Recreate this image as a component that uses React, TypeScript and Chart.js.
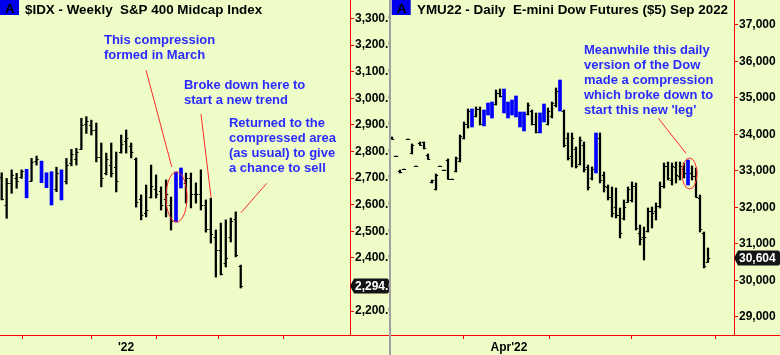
import React, { useEffect, useRef } from 'react';
import { Chart, registerables } from 'chart.js';
Chart.register(...registerables);

const FONT = "'Liberation Sans', Arial, sans-serif";
const BG = '#EEFDC8';
const TEXT_BLUE = '#2B2BFF';
const RED = '#FF0000';

// ---------- Left panel: $IDX weekly ----------
const leftTitle = '$IDX - Weekly  S&P 400 Midcap Index';
const leftHigh = [2720,2699,2731,2718,2731,2733,2774,2783,2764,2720,2724,2741,2731,2774,2808,2812,2925,2931,2918,2907,2832,2794,2832,2798,2862,2881,2832,2776,2637,2674,2749,2712,2667,2693,2629,2723,2738,2719,2719,2682,2731,2618,2625,2505,2531,2543,2550,2573,2373];
const leftLow = [2618,2549,2643,2662,2699,2626,2689,2749,2683,2664,2599,2649,2618,2678,2746,2749,2808,2868,2862,2761,2667,2712,2704,2648,2794,2794,2776,2591,2543,2554,2625,2625,2580,2554,2505,2535,2663,2606,2588,2606,2580,2497,2456,2328,2336,2366,2460,2404,2287];
const leftOpen = [2705,2600,2680,2700,2705,2720,2690,2765,2750,2700,2700,2660,2700,2690,2755,2770,2810,2905,2900,2880,2780,2720,2750,2740,2800,2840,2820,2770,2620,2570,2630,2660,2650,2620,2600,2700,2680,2680,2700,2640,2640,2600,2510,2480,2430,2380,2480,2545,2370];
const leftClose = [2622,2680,2712,2690,2725,2640,2760,2770,2690,2680,2620,2720,2630,2750,2790,2800,2900,2915,2880,2780,2700,2770,2720,2690,2830,2850,2800,2610,2560,2580,2670,2640,2600,2640,2540,2550,2720,2700,2640,2640,2600,2510,2490,2430,2340,2400,2540,2410,2294];
const leftBlue = [5, 8, 9, 10, 12, 35, 36];
const leftYTicks = [2200,2300,2400,2500,2600,2700,2800,2900,3000,3100,3200,3300];
const leftXTicks = [11.1, 24.96, 37.01, 50.06];
const leftXLabels = ['', "'22", '', ''];
const leftLast = '2,294.0';

// ---------- Right panel: YMU22 daily ----------
const rightTitle = 'YMU22 - Daily  E-mini Dow Futures ($5) Sep 2022';
const rightHigh = [33931,33411,33027,33054,33876,33740,33137,33794,33794,33466,32753,32917,33137,33027,33329,32780,33383,33986,34342,34699,34699,34753,34753,34671,34863,34890,35219,35246,35246,34890,34945,35055,34616,34616,34863,34671,34589,34589,34835,34726,34890,35274,35493,34671,34041,34041,33657,33931,33794,33164,33109,34041,34041,32972,32616,32561,32534,31986,32205,32561,32698,32671,31520,31465,31986,32013,32123,32698,33219,33246,33219,33246,33246,33219,33301,33137,33082,32342,31328,30890];
const rightLow = [33876,33411,32945,33054,33876,33466,33137,33712,33602,33329,32671,32479,33137,33027,32780,32780,32972,33246,33876,34178,34205,34479,34260,34233,34534,34452,34808,35027,34589,34452,34534,34479,34205,34096,34534,34260,34041,34041,34342,34260,34452,34753,34644,33657,33301,33109,33082,33164,32972,32479,32753,32945,32671,32424,32205,31739,31712,31164,31657,32150,32150,31383,30972,30561,31328,31438,31657,31986,32534,32753,32616,32671,32753,32808,32616,32753,32287,31328,30342,30506];
const rightOpen = [33931,33411,33000,33054,33876,33500,33137,33760,33790,33440,32700,32500,33137,33027,33300,32780,32990,33260,33900,34300,34650,34500,34700,34300,34600,34800,34830,35150,35200,34850,34550,35000,34580,34250,34560,34650,34300,34100,34400,34300,34500,34800,35400,34650,33900,33400,33600,33200,33700,33100,32800,34000,33900,32900,32550,32300,32000,31800,31700,32160,32200,32600,31300,31200,31350,31900,31900,32050,32600,33150,32750,33100,32850,33050,33250,32950,32850,32250,31300,30500];
const rightClose = [33876,33411,32960,33054,33876,33720,33137,33720,33620,33340,32740,32880,33137,33027,32790,32780,33350,33950,34300,34650,34250,34700,34300,34600,34800,34500,35150,35050,34650,34500,34900,34500,34250,34550,34800,34300,34080,34550,34800,34650,34850,35200,34700,33700,33350,33900,33150,33850,33050,32550,33050,33000,32750,32600,32300,31850,31800,31300,32000,32500,32600,31450,31150,31200,31900,31850,32050,32600,33150,32800,33150,32900,33150,32950,32650,32850,32300,31400,30400,30604];
const rightBlue = [20, 23, 24, 25, 28, 29, 30, 31, 32, 33, 37, 38, 42, 51, 74];
const rightYTicks = [29000,30000,31000,32000,33000,34000,35000,36000,37000];
const rightXTicks = [6.25, 29.25, 49.25, 70.25];
const rightXLabels = ['', "Apr'22", '', ''];
const rightLast = '30,604';

type Spec = {
  title: string; high: number[]; low: number[]; open: number[]; close: number[]; blue: number[];
  yTicks: number[]; yFmt: (v: number) => string; xTicks: number[]; xLabels: string[];
  xMin: number; xMax: number; yMin: number; yMax: number; axisW: number; last: string;
  titleX: number; boxX: number;
  lines: number[][]; ellipses: number[][]; texts: { x: number; y: number; lines: string[] }[];
};

const leftSpec: Spec = {
  title: leftTitle, high: leftHigh, low: leftLow, open: leftOpen, close: leftClose, blue: leftBlue,
  yTicks: leftYTicks, yFmt: (v) => v.toLocaleString('en-US', { minimumFractionDigits: 1, maximumFractionDigits: 1 }),
  xTicks: leftXTicks, xLabels: leftXLabels, xMin: -0.34, xMax: 69.94, yMin: 2110.3, yMax: 3369.5, axisW: 39,
  last: leftLast, titleX: 25, boxX: 0,
  lines: [[28.98, 3106, 34.15, 2742], [40.02, 2941, 42.03, 2628], [53.2, 2680, 48.05, 2570]],
  ellipses: [[32.99, 37.21, 2723, 2535]],
  texts: [
    { x: 20.54, y: 3204, lines: ['This compression', 'formed in March'] },
    { x: 36.6, y: 3035, lines: ['Broke down here to', 'start a new trend'] },
    { x: 45.64, y: 2891, lines: ['Returned to the', 'compressed area', '(as usual) to give', 'a chance to sell'] },
  ],
};

const rightSpec: Spec = {
  title: rightTitle, high: rightHigh, low: rightLow, open: rightOpen, close: rightClose, blue: rightBlue,
  yTicks: rightYTicks, yFmt: (v) => v.toLocaleString('en-US'),
  xTicks: rightXTicks, xLabels: rightXLabels, xMin: -0.25, xMax: 85.5, yMin: 28506, yMax: 37685, axisW: 46,
  last: rightLast, titleX: 26, boxX: 0.7,
  lines: [[66.6, 34444, 73.5, 33485]],
  ellipses: [[72.5, 76.25, 33356, 32507]],
  texts: [
    { x: 48, y: 36205, lines: ['Meanwhile this daily', 'version of the Dow', 'made a compression', 'which broke down to', "start this new 'leg'"] },
  ],
};

const ohlcTicks = {
  id: 'ohlcTicks',
  afterDatasetsDraw(chart: any, _a: any, o: any) {
    const { ctx } = chart;
    const xs = chart.scales.x, ys = chart.scales.y;
    ctx.save();
    ctx.strokeStyle = '#000';
    ctx.lineWidth = 1;
    ctx.beginPath();
    o.open.forEach((op: number, i: number) => {
      if (o.blue.includes(i)) return;
      const px = xs.getPixelForValue(i);
      const yo = Math.round(ys.getPixelForValue(op)) + 0.5;
      const yc = Math.round(ys.getPixelForValue(o.close[i])) + 0.5;
      ctx.moveTo(px - 2.2, yo); ctx.lineTo(px + 0.5, yo);
      ctx.moveTo(px - 0.5, yc); ctx.lineTo(px + 2.2, yc);
    });
    ctx.stroke();
    ctx.restore();
  },
};

const decor = {
  id: 'decor',
  afterDraw(chart: any, _a: any, o: any) {
    const { ctx, chartArea, width } = chart;
    const xs = chart.scales.x, ys = chart.scales.y;
    ctx.save();
    // full-width bottom axis line
    ctx.strokeStyle = RED; ctx.lineWidth = 1;
    ctx.beginPath();
    ctx.moveTo(0, Math.round(chartArea.bottom) + 0.5);
    ctx.lineTo(width, Math.round(chartArea.bottom) + 0.5);
    ctx.stroke();
    // title
    ctx.fillStyle = '#0000EE';
    ctx.fillRect(o.boxX, 0, 19, 15);
    ctx.fillStyle = '#000';
    ctx.font = `bold 13.4px ${FONT}`;
    ctx.textBaseline = 'alphabetic';
    ctx.fillText('A', o.boxX + 5, 13);
    ctx.fillText(o.title, o.titleX, 14);
    // annotation lines
    ctx.strokeStyle = '#FF2A2A';
    ctx.lineWidth = 1;
    o.lines.forEach((l: number[]) => {
      ctx.beginPath();
      ctx.moveTo(xs.getPixelForValue(l[0]), ys.getPixelForValue(l[1]));
      ctx.lineTo(xs.getPixelForValue(l[2]), ys.getPixelForValue(l[3]));
      ctx.stroke();
    });
    o.ellipses.forEach((e: number[]) => {
      const x0 = xs.getPixelForValue(e[0]), x1 = xs.getPixelForValue(e[1]);
      const y0 = ys.getPixelForValue(e[2]), y1 = ys.getPixelForValue(e[3]);
      ctx.beginPath();
      ctx.ellipse((x0 + x1) / 2, (y0 + y1) / 2, (x1 - x0) / 2, (y1 - y0) / 2, 0, 0, Math.PI * 2);
      ctx.stroke();
    });
    // annotation texts
    ctx.fillStyle = TEXT_BLUE;
    ctx.font = `bold 13px ${FONT}`;
    o.texts.forEach((t: any) => {
      const px = xs.getPixelForValue(t.x), py = ys.getPixelForValue(t.y);
      t.lines.forEach((s: string, k: number) => ctx.fillText(s, px, py + k * 15));
    });
    // last value box
    const lastClose = o.close[o.close.length - 1];
    const yv = Math.round(ys.getPixelForValue(lastClose));
    const tip = chartArea.right;
    ctx.fillStyle = '#141414';
    ctx.beginPath();
    ctx.moveTo(tip, yv);
    ctx.lineTo(tip + 4, yv - 7.5);
    ctx.lineTo(width - 2, yv - 7.5);
    ctx.quadraticCurveTo(width, yv - 7.5, width, yv - 5);
    ctx.lineTo(width, yv + 5);
    ctx.quadraticCurveTo(width, yv + 7.5, width - 2, yv + 7.5);
    ctx.lineTo(tip + 4, yv + 7.5);
    ctx.closePath();
    ctx.fill();
    ctx.fillStyle = '#FFFFFF';
    ctx.font = `bold 12px ${FONT}`;
    ctx.textBaseline = 'middle';
    ctx.fillText(o.last, tip + 5, yv + 0.5);
    ctx.restore();
  },
};

function Panel({ spec, left, width }: { spec: Spec; left: number; width: number }) {
  const ref = useRef<HTMLCanvasElement | null>(null);
  useEffect(() => {
    if (!ref.current) return;
    const black: any[] = [], blue: any[] = [];
    spec.high.forEach((h, i) => {
      const pt = { x: i, y: [spec.low[i], h] };
      (spec.blue.includes(i) ? blue : black).push(pt);
    });
    const tickFont = { family: FONT, size: 12, weight: 'bold' as const };
    const chart = new Chart(ref.current, {
      type: 'bar',
      data: {
        datasets: [
          { data: black, backgroundColor: '#000', barThickness: 1.6, grouped: false } as any,
          { data: blue, backgroundColor: '#0000FF', barThickness: 3, grouped: false } as any,
        ],
      },
      options: {
        animation: false,
        responsive: false,
        maintainAspectRatio: false,
        events: [],
        layout: { padding: 0 },
        plugins: {
          legend: { display: false },
          tooltip: { enabled: false },
          ohlcTicks: { open: spec.open, close: spec.close, blue: spec.blue },
          decor: {
            title: spec.title, titleX: spec.titleX, boxX: spec.boxX, lines: spec.lines,
            ellipses: spec.ellipses, texts: spec.texts, close: spec.close, last: spec.last,
          },
        } as any,
        scales: {
          x: {
            type: 'linear', min: spec.xMin, max: spec.xMax, offset: false,
            grid: { display: true, drawOnChartArea: false, drawTicks: true, tickLength: 4, color: RED },
            border: { display: true, color: RED, width: 1 },
            ticks: {
              autoSkip: false, maxRotation: 0, padding: 1, color: '#000', font: tickFont,
              callback: (_v: any, i: number) => spec.xLabels[i] ?? '',
            },
            afterBuildTicks: (s: any) => { s.ticks = spec.xTicks.map((v) => ({ value: v })); },
            afterFit: (s: any) => { s.height = 20; s.paddingLeft = 0; s.paddingRight = 0; s.paddingTop = 0; s.paddingBottom = 0; },
          },
          y: {
            type: 'linear', position: 'right', min: spec.yMin, max: spec.yMax,
            grid: { display: true, drawOnChartArea: false, drawTicks: true, tickLength: 4, color: RED },
            border: { display: true, color: RED, width: 1 },
            ticks: {
              autoSkip: false, padding: 1, color: '#000', font: tickFont,
              callback: (v: any) => spec.yFmt(Number(v)),
            },
            afterBuildTicks: (s: any) => { s.ticks = spec.yTicks.map((v) => ({ value: v })); },
            afterFit: (s: any) => { s.width = spec.axisW; s.paddingTop = 0; s.paddingBottom = 0; s.paddingLeft = 0; s.paddingRight = 0; },
          },
        },
      } as any,
      plugins: [ohlcTicks, decor],
    });
    return () => chart.destroy();
  }, [spec]);
  return (
    <canvas
      ref={ref}
      width={width}
      height={355}
      style={{ position: 'absolute', left, top: 0, width, height: 355, display: 'block' }}
    />
  );
}

export default function App() {
  return (
    <div style={{ position: 'fixed', left: 0, top: 0, width: 780, height: 355, background: BG, overflow: 'hidden' }}>
      <Panel spec={leftSpec} left={0} width={389} />
      <div style={{ position: 'absolute', left: 389, top: 0, width: 2, height: 355, background: '#A0A0A0' }} />
      <Panel spec={rightSpec} left={391} width={389} />
    </div>
  );
}
